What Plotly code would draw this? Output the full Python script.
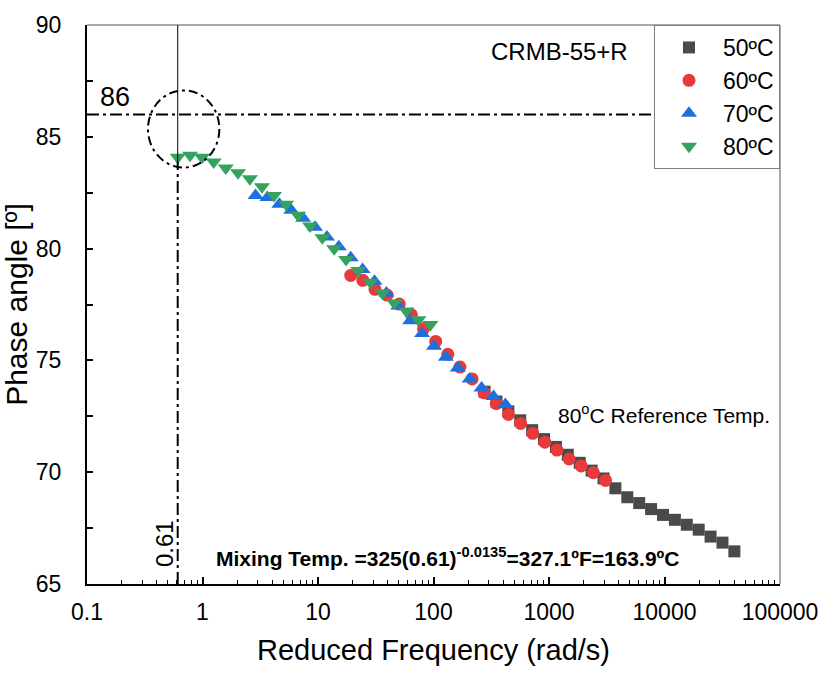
import math
import plotly.graph_objects as go

# Phase angle master curve of CRMB-55+R, shifted to the 80 ºC reference temperature
freq_50 = [276.7, 350.8, 444.6, 563.6, 714.5, 905.7, 1148, 1455, 1845, 2339, 2965,
           3758, 4764, 6039, 7656, 9705, 12303, 15596, 19770, 25061, 31769, 40272]
phase_50 = [73.60, 73.16, 72.72, 72.32, 71.88, 71.48, 71.13, 70.78, 70.42, 70.07, 69.72,
            69.28, 68.88, 68.62, 68.35, 68.09, 67.87, 67.65, 67.43, 67.12, 66.85, 66.46]

freq_60 = [19.20, 24.45, 31.14, 39.67, 50.52, 64.35, 81.96, 104.4, 132.9, 169.3, 215.7,
           274.7, 349.9, 445.7, 567.5, 722.9, 920.7, 1173, 1494, 1902, 2423, 3086]
phase_60 = [78.80, 78.58, 78.18, 77.92, 77.52, 77.04, 76.42, 75.85, 75.27, 74.70, 74.17,
            73.55, 73.07, 72.58, 72.18, 71.74, 71.34, 70.99, 70.59, 70.28, 69.98, 69.63]

freq_70 = [2.88, 3.65, 4.63, 5.87, 7.43, 9.42, 11.95, 15.14, 19.20, 24.33, 30.85,
           39.10, 49.57, 62.84, 79.66, 101.0, 128.0, 162.3, 205.7, 260.8, 330.6, 419.0]
phase_70 = [82.37, 82.28, 81.98, 81.71, 81.36, 80.96, 80.52, 80.08, 79.59, 79.07, 78.54,
            78.01, 77.43, 76.77, 76.20, 75.63, 75.14, 74.66, 74.17, 73.77, 73.38, 73.03]

freq_80 = [0.61, 0.78, 0.99, 1.25, 1.59, 2.03, 2.57, 3.27, 4.16, 5.29, 6.72,
           8.54, 10.9, 13.8, 17.5, 22.3, 28.4, 36.0, 45.8, 58.2, 74.0, 94.1]
phase_80 = [84.09, 84.18, 84.09, 83.87, 83.61, 83.39, 83.12, 82.77, 82.37, 81.98, 81.49,
            81.01, 80.48, 79.99, 79.51, 79.02, 78.49, 78.01, 77.57, 77.21, 76.82, 76.60]

series_names = ["50ºC", "60ºC", "70ºC", "80ºC"]

x_tick_vals = [0.1, 1, 10, 100, 1000, 10000, 100000]
x_tick_text = ["0.1", "1", "10", "100", "1000", "10000", "100000"]
y_tick_vals = [65, 70, 75, 80, 85, 90]

# target phase angle and the frequency where the curve reaches it
target_phase = 86
target_freq = 0.61

FONT = "Liberation Sans, Arial, Helvetica, sans-serif"
NARROW = "Liberation Sans Narrow, Arial Narrow, Liberation Sans, sans-serif"

styles = [
    dict(symbol="square", color="#4A4A4A", size=12),
    dict(symbol="circle", color="#E8393B", size=13),
    dict(symbol="triangle-up", color="#1F6FDE", size=14),
    dict(symbol="triangle-down", color="#35A35F", size=14),
]
data = [(freq_50, phase_50), (freq_60, phase_60), (freq_70, phase_70), (freq_80, phase_80)]

fig = go.Figure()
for name, (fx, py), st in zip(series_names, data, styles):
    fig.add_trace(go.Scatter(
        x=fx, y=py, mode="markers", name=name, legendgroup=name,
        marker=dict(symbol=st["symbol"], color=st["color"], size=st["size"],
                    line=dict(width=0)),
    ))

dash_pat = "12px,4px,3px,4px"
shapes = [
    # frame: thin top and right edges
    dict(type="line", xref="paper", yref="paper", x0=0, x1=1, y0=1, y1=1,
         line=dict(color="#555555", width=1)),
    dict(type="line", xref="paper", yref="paper", x0=1, x1=1, y0=0, y1=1,
         line=dict(color="#555555", width=1)),
    # horizontal guide at the target phase angle
    dict(type="line", xref="paper", yref="y", x0=0, x1=1, y0=target_phase, y1=target_phase,
         line=dict(color="black", width=2, dash=dash_pat)),
    # vertical guide at the matching frequency
    dict(type="line", xref="x", yref="y", x0=target_freq, x1=target_freq, y0=83.9, y1=90,
         line=dict(color="black", width=1)),
    dict(type="line", xref="x", yref="y", x0=target_freq, x1=target_freq, y0=65, y1=83.9,
         line=dict(color="black", width=2, dash=dash_pat)),
    # circle marking the intersection
    dict(type="circle", xref="paper", yref="paper", x0=0.088, x1=0.191, y0=0.745, y1=0.883,
         line=dict(color="black", width=2, dash="9px,4px,3px,4px")),
]

annotations = [
    dict(text=str(target_phase), xref="paper", yref="y", x=0.040, y=target_phase,
         xanchor="center", yanchor="bottom", showarrow=False,
         font=dict(family=FONT, size=27, color="black")),
    dict(text=str(target_freq), xref="paper", yref="paper", x=0.1116, y=0.072,
         textangle=-90, xanchor="center", yanchor="middle", showarrow=False,
         font=dict(family=FONT, size=24, color="black")),
    dict(text="CRMB-55+R", xref="paper", yref="paper", x=0.682, y=0.952,
         xanchor="center", yanchor="middle", showarrow=False,
         font=dict(family=FONT, size=24, color="black")),
    dict(text="80<sup>o</sup>C Reference Temp.", xref="paper", yref="paper", x=0.833, y=0.305,
         xanchor="center", yanchor="middle", showarrow=False,
         font=dict(family=FONT, size=21, color="black")),
    dict(text="<b>Mixing Temp. =325(0.61)<sup>-0.0135</sup>=327.1ºF=163.9ºC</b>",
         xref="paper", yref="paper", x=0.52, y=0.049,
         xanchor="center", yanchor="middle", showarrow=False,
         font=dict(family=NARROW, size=21, color="black")),
]

fig.update_layout(
    width=830, height=673,
    margin=dict(l=87, r=44, t=18, b=88),
    paper_bgcolor="white", plot_bgcolor="white",
    font=dict(family=FONT, color="black"),
    showlegend=True,
    legend=dict(x=1, y=1, xanchor="right", yanchor="top",
                bordercolor="#7F7F7F", borderwidth=1, bgcolor="white",
                font=dict(family=FONT, size=23, color="black"),
                itemwidth=58, tracegroupgap=0),
    xaxis=dict(
        type="log", range=[-1, 5],
        tickmode="array", tickvals=x_tick_vals, ticktext=x_tick_text,
        ticks="inside", ticklen=7, tickwidth=1.5, tickcolor="black",
        minor=dict(ticks="inside", ticklen=4, tickwidth=1, tickcolor="black",
                   tickmode="linear", dtick="D1", showgrid=False),
        showline=True, linewidth=2, linecolor="black", mirror=False,
        showgrid=False, zeroline=False,
        tickfont=dict(family=FONT, size=23, color="black"),
        ticklabelstandoff=6,
        title=dict(text="Reduced Frequency (rad/s)", standoff=16,
                   font=dict(family=FONT, size=29, color="black")),
    ),
    yaxis=dict(
        range=[65, 90],
        tickmode="array", tickvals=y_tick_vals,
        ticks="inside", ticklen=6, tickwidth=1.5, tickcolor="black",
        minor=dict(ticks="inside", ticklen=6, tickwidth=1.5, tickcolor="black",
                   tickmode="linear", tick0=65, dtick=2.5, showgrid=False),
        showline=True, linewidth=2, linecolor="black", mirror=False,
        showgrid=False, zeroline=False,
        tickfont=dict(family=FONT, size=23, color="black"),
        ticklabelstandoff=19,
        title=dict(text="Phase angle [º]", standoff=2,
                   font=dict(family=FONT, size=30, color="black")),
    ),
    shapes=shapes,
    annotations=annotations,
)

fig.write_html("out.html")
